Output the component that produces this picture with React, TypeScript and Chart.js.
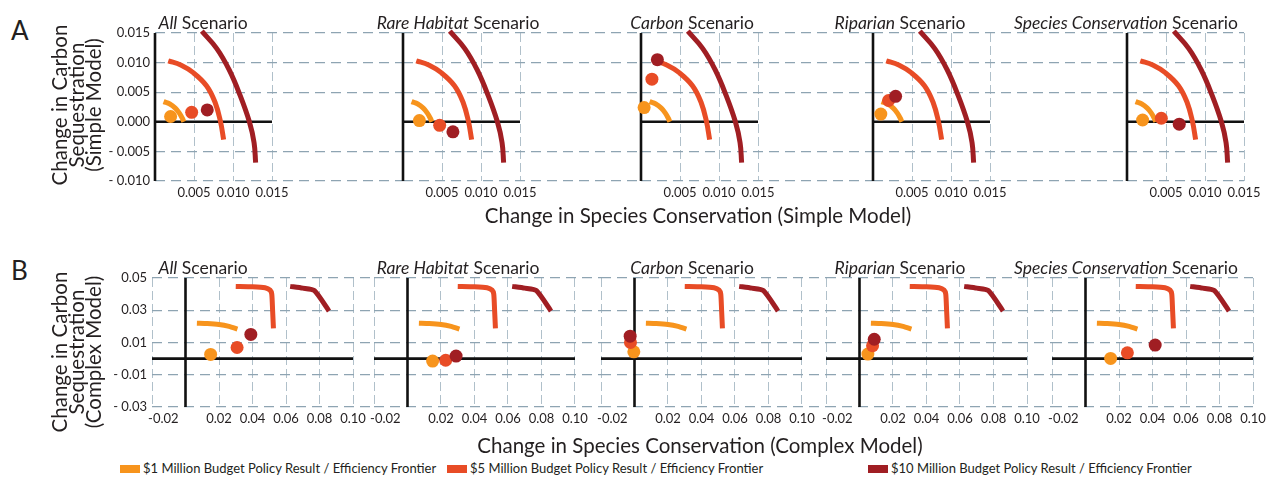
import React, { useEffect, useRef } from "react";
import { Chart, registerables } from "chart.js";

Chart.register(...registerables);

// ---------------- DATA ----------------
const scenarios = ["All", "Rare Habitat", "Carbon", "Riparian", "Species Conservation"];
const budgetLabels = [
  "$1 Million Budget Policy Result / Efficiency Frontier",
  "$5 Million Budget Policy Result / Efficiency Frontier",
  "$10 Million Budget Policy Result / Efficiency Frontier",
];

// Simple model (row A)
const simpleXRange = [0, 0.015];
const simpleYRange = [-0.01, 0.015];
const simpleXTicks = [0.005, 0.01, 0.015];
const simpleXTickLabels = ["0.005", "0.010", "0.015"];
const simpleYTicks = [-0.01, -0.005, 0, 0.005, 0.01, 0.015];
const simpleYTickLabels = ["- 0.010", "- 0.005", "0.000", "0.005", "0.010", "0.015"];
const simpleZeroLineX = [0, 0.015];

const simpleFrontier1M = [
  [0.0011, 0.0034], [0.0019, 0.003], [0.0026, 0.0023], [0.0031, 0.0015], [0.0035, 0.0006], [0.0037, 0.0],
];
const simpleFrontier5M = [
  [0.0017, 0.0103], [0.0033, 0.0096], [0.0049, 0.0083], [0.0066, 0.0061], [0.0077, 0.0033], [0.0084, 0.0], [0.0088, -0.003],
];
const simpleFrontier10M = [
  [0.006, 0.0153], [0.0079, 0.0124], [0.0095, 0.0088], [0.0109, 0.0045], [0.0121, 0.0], [0.0127, -0.0035], [0.0129, -0.0069],
];
// one point per scenario: All, Rare Habitat, Carbon, Riparian, Species Conservation
const simpleResult1M = [[0.002, 0.0009], [0.0021, 0.0002], [0.0004, 0.0024], [0.001, 0.0013], [0.002, 0.0003]];
const simpleResult5M = [[0.0047, 0.0016], [0.0047, -0.0006], [0.0014, 0.0072], [0.002, 0.0036], [0.0044, 0.0006]];
const simpleResult10M = [[0.0067, 0.002], [0.0064, -0.0017], [0.0021, 0.0105], [0.0029, 0.0043], [0.0067, -0.0004]];

// Complex model (row B)
const complexXRange = [-0.02, 0.1];
const complexYRange = [-0.03, 0.05];
const complexXTicks = [-0.02, 0.02, 0.04, 0.06, 0.08, 0.1];
const complexXTickLabels = ["-0.02", "0.02", "0.04", "0.06", "0.08", "0.10"];
const complexYTicks = [-0.03, -0.01, 0.01, 0.03, 0.05];
const complexYTickLabels = ["- 0.03", "- 0.01", "0.01", "0.03", "0.05"];
const complexZeroLineX = [-0.02, 0.1];

const complexFrontier1M = [[0.0068, 0.022], [0.013, 0.0218], [0.02, 0.0212], [0.026, 0.02], [0.031, 0.0183]];
const complexFrontier5M = [
  [0.03, 0.0448], [0.04, 0.0446], [0.0475, 0.044], [0.0505, 0.0425], [0.0515, 0.04], [0.052, 0.03], [0.0525, 0.0188],
];
const complexFrontier10M = [[0.0625, 0.0448], [0.07, 0.0437], [0.077, 0.0422], [0.0857, 0.0295]];
const complexResult1M = [[0.015, 0.0026], [0.015, -0.0015], [-0.0004, 0.0042], [0.005, 0.0028], [0.015, 0.0001]];
const complexResult5M = [[0.0308, 0.0069], [0.0228, -0.001], [-0.0024, 0.01], [0.0078, 0.008], [0.025, 0.0036]];
const complexResult10M = [[0.039, 0.015], [0.029, 0.0016], [-0.0026, 0.0139], [0.0088, 0.012], [0.0416, 0.0084]];

// ---------------- STYLE / LAYOUT ----------------
const budgetColors = ["#f7941d", "#e84c26", "#a01e23"];
const FONT = "Lato, 'Open Sans', sans-serif";
const TEXT = "#231f20";
const FIG_SPACE = "\u2007";

const models = [
  {
    xRange: simpleXRange, yRange: simpleYRange,
    xTicks: simpleXTicks, xTickLabels: simpleXTickLabels,
    yTicks: simpleYTicks, yTickLabels: simpleYTickLabels,
    zeroLineX: simpleZeroLineX,
    frontiers: [simpleFrontier1M, simpleFrontier5M, simpleFrontier10M],
    results: [simpleResult1M, simpleResult5M, simpleResult10M],
    tension: 0.4,
    firstLabelShift: 0,
  },
  {
    xRange: complexXRange, yRange: complexYRange,
    xTicks: complexXTicks, xTickLabels: complexXTickLabels,
    yTicks: complexYTicks, yTickLabels: complexYTickLabels,
    zeroLineX: complexZeroLineX,
    frontiers: [complexFrontier1M, complexFrontier5M, complexFrontier10M],
    results: [complexResult1M, complexResult5M, complexResult10M],
    tension: 0.2,
    firstLabelShift: 3,
  },
];

const rowLayouts = [
  { lefts: [155, 403, 641, 873, 1127], width: 117, top: 33, bottom: 181 },
  { lefts: [152, 374, 601, 826, 1052], width: 201, top: 278, bottom: 407 },
];

const titleCenters = [203, 458, 692, 900, 1126];

type Model = (typeof models)[number];
type RowLayout = (typeof rowLayouts)[number];

function Panel({ model, layout, index }: { model: Model; layout: RowLayout; index: number }) {
  const ref = useRef<HTMLCanvasElement>(null);
  const isFirst = index === 0;
  const isLast = index === layout.lefts.length - 1;
  const [x0, x1] = model.xRange;
  const [y0, y1] = model.yRange;
  const ppu = layout.width / (x1 - x0);
  const areaW = isLast ? layout.width : layout.lefts[index + 1] - layout.lefts[index];
  const xMaxExt = x0 + areaW / ppu;
  const YW = isFirst ? 70 : 26;
  const PT = 10;
  const PR = 26;
  const XH = 30;
  const plotH = layout.bottom - layout.top;
  const W = YW + areaW + PR;
  const H = PT + plotH + XH;
  const left = layout.lefts[index] - YW;
  const top = layout.top - PT;

  useEffect(() => {
    if (!ref.current) return;
    const dots = {
      data: model.results.map((r) => ({ x: r[index][0], y: r[index][1] })),
      showLine: false,
      pointRadius: 6.5,
      pointBorderWidth: 0,
      pointBackgroundColor: budgetColors,
      clip: false as any,
      order: 0,
    };
    const curves = model.frontiers.map((f, k) => ({
      data: f.map(([x, y]) => ({ x, y })),
      showLine: true,
      borderColor: budgetColors[k],
      borderWidth: 5,
      pointRadius: 0,
      tension: model.tension,
      borderCapStyle: "butt" as const,
      borderJoinStyle: "round" as const,
      clip: false as any,
      order: 1,
    }));
    const axisStyle = {
      showLine: true,
      borderColor: "#111111",
      borderWidth: 2.6,
      pointRadius: 0,
      clip: false as any,
      order: 2,
    };
    const axes = [
      { ...axisStyle, data: [{ x: 0, y: y0 }, { x: 0, y: y1 }] },
      { ...axisStyle, data: [{ x: model.zeroLineX[0], y: 0 }, { x: model.zeroLineX[1], y: 0 }] },
    ];

    const chart = new Chart(ref.current, {
      type: "scatter",
      data: { datasets: [dots, ...curves, ...axes] as any },
      options: {
        responsive: false,
        animation: false,
        events: [],
        layout: { padding: { left: 0, right: PR, top: PT, bottom: 0 } },
        plugins: { legend: { display: false }, tooltip: { enabled: false } },
        scales: {
          x: {
            type: "linear",
            min: x0,
            max: xMaxExt,
            afterBuildTicks: (s: any) => {
              s.ticks = model.xTicks.map((v) => ({ value: v }));
            },
            afterFit: (s: any) => {
              s.height = XH;
              s.paddingLeft = 0;
              s.paddingRight = 0;
            },
            ticks: {
              autoSkip: false,
              maxRotation: 0,
              padding: 4,
              color: TEXT,
              font: { family: FONT, size: 13 },
              callback: (_v: any, i: number) =>
                (i === 0 ? FIG_SPACE.repeat(model.firstLabelShift) : "") + model.xTickLabels[i],
            },
            grid: { color: "#b0c0ca", lineWidth: 1, drawTicks: false },
            border: { display: false, dash: [9, 4] },
          },
          y: {
            type: "linear",
            min: y0,
            max: y1,
            afterBuildTicks: (s: any) => {
              s.ticks = model.yTicks.map((v) => ({ value: v }));
            },
            afterFit: (s: any) => {
              s.width = YW;
              s.paddingTop = 0;
              s.paddingBottom = 0;
            },
            ticks: {
              display: isFirst,
              autoSkip: false,
              padding: 5,
              color: TEXT,
              font: { family: FONT, size: 13 },
              callback: (_v: any, i: number) => model.yTickLabels[i],
            },
            grid: {
              color: (ctx: any) => (ctx.tick && ctx.tick.value === 0 ? "rgba(0,0,0,0)" : "#8ea4b2"),
              lineWidth: 1.3,
              drawTicks: false,
            },
            border: { display: false, dash: [10, 6] },
          },
        },
      } as any,
    });
    return () => chart.destroy();
  }, []);

  return (
    <canvas
      ref={ref}
      width={W}
      height={H}
      style={{ position: "absolute", left, top, width: W, height: H }}
    />
  );
}

const abs = (l: number, t: number, extra: React.CSSProperties = {}): React.CSSProperties => ({
  position: "absolute",
  left: l,
  top: t,
  whiteSpace: "nowrap",
  fontFamily: FONT,
  color: TEXT,
  ...extra,
});

function YTitle({ lines, cx, cy }: { lines: string[]; cx: number; cy: number }) {
  return (
    <div
      style={abs(cx, cy, {
        width: 300,
        fontSize: 20.5,
        lineHeight: "17px",
        textAlign: "center",
        transform: "translate(-50%, -50%) rotate(-90deg)",
      })}
    >
      {lines.map((l, i) => (
        <div key={i}>{l}</div>
      ))}
    </div>
  );
}

export default function App() {
  const titleTops = [13.5, 258.5];
  return (
    <div
      style={{
        position: "absolute",
        left: 0,
        top: 0,
        width: 1268,
        height: 477,
        overflow: "hidden",
        background: "#ffffff",
      }}
    >
      {models.map((m, r) =>
        scenarios.map((_, i) => <Panel key={r + "-" + i} model={m} layout={rowLayouts[r]} index={i} />)
      )}

      {/* panel titles */}
      {titleTops.map((t, r) =>
        scenarios.map((s, i) => (
          <div
            key={"t" + r + i}
            style={abs(titleCenters[i], t, { fontSize: 17.5, lineHeight: "17.5px", transform: "translateX(-50%)" })}
          >
            <span style={{ fontStyle: "italic" }}>{s}</span> Scenario
          </div>
        ))
      )}

      {/* row letters */}
      <div style={abs(11, 16.6, { fontSize: 26, lineHeight: "26px" })}>A</div>
      <div style={abs(11, 257.3, { fontSize: 26, lineHeight: "26px" })}>B</div>

      {/* y titles */}
      <YTitle lines={["Change in Carbon", "Sequestration", "(Simple Model)"]} cx={76} cy={105} />
      <YTitle lines={["Change in Carbon", "Sequestration", "(Complex Model)"]} cx={76} cy={352} />

      {/* x titles */}
      <div style={abs(698, 204.7, { fontSize: 20.5, lineHeight: "20.5px", transform: "translateX(-50%)" })}>
        Change in Species Conservation (Simple Model)
      </div>
      <div style={abs(700, 435, { fontSize: 20.5, lineHeight: "20.5px", transform: "translateX(-50%)" })}>
        Change in Species Conservation (Complex Model)
      </div>

      {/* legend */}
      {budgetLabels.map((lab, k) => {
        const sx = [120, 447, 868][k];
        return (
          <React.Fragment key={"lg" + k}>
            <div style={{ position: "absolute", left: sx, top: 465, width: 20, height: 8, background: budgetColors[k] }} />
            <div style={abs(sx + 23, 462, { fontSize: 13, lineHeight: "13px" })}>{lab}</div>
          </React.Fragment>
        );
      })}
    </div>
  );
}
